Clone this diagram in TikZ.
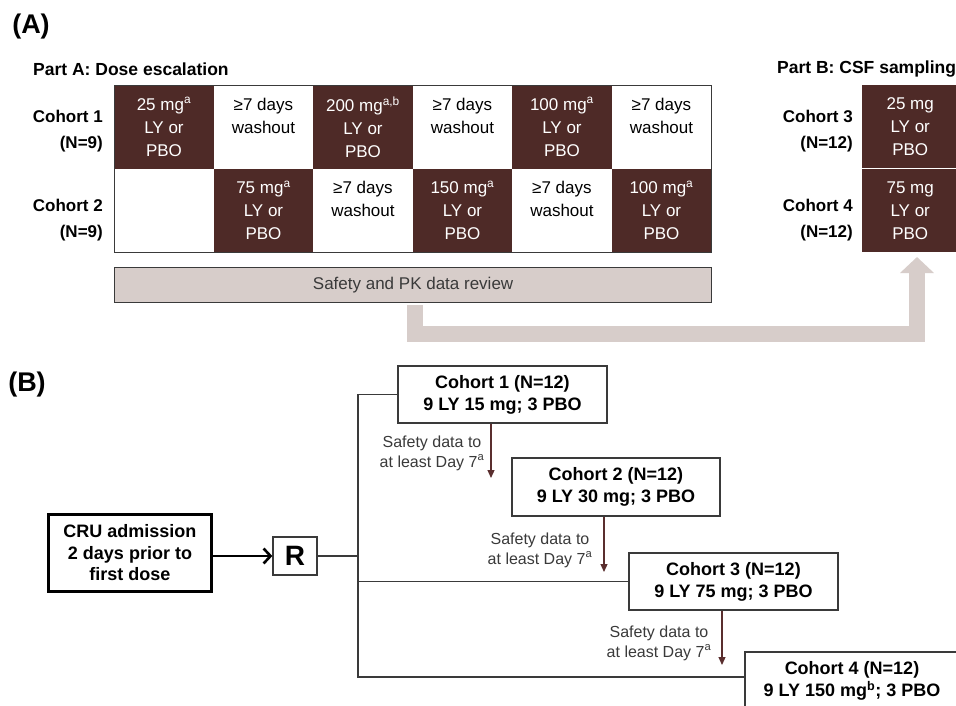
\documentclass[tikz,border=0pt]{standalone}
\usepackage{fontspec}
\setmainfont{Liberation Sans}
\usetikzlibrary{arrows.meta,calc}
\definecolor{brn}{HTML}{4E2A27}
\definecolor{pal}{HTML}{D7CDCA}
\definecolor{ln}{HTML}{3A3A3A}
\definecolor{arw}{HTML}{5A2E2E}
\newcommand{\fsz}[2]{\fontsize{#1}{#2}\selectfont}
\newcommand{\sps}[1]{\textsuperscript{#1}}
\begin{document}
\begin{tikzpicture}[x=1pt,y=-1pt,
  cellB/.style={rectangle, fill=brn, text=white, draw=none, minimum width=99.5pt, minimum height=83.5pt, inner sep=0pt, anchor=north west, align=center, font=\fsz{17}{23}},
  cellW/.style={cellB, fill=white, text=black},
  cellP/.style={cellB, minimum width=96pt},
  cohlab/.style={anchor=east, align=right, inner sep=0pt, font=\bfseries\fsz{17}{26}},
  title/.style={anchor=west, inner sep=0pt, font=\bfseries\fsz{17.5}{20}},
  big/.style={inner sep=0pt, font=\bfseries\fsz{27}{30}},
  cbox/.style={rectangle, draw=ln, line width=1.3pt, fill=white, inner sep=0pt, align=center, font=\bfseries\fsz{18}{22}},
  conn/.style={draw=ln, line width=1.2pt},
  darr/.style={draw=arw, line width=1.2pt, -{Triangle[width=7pt,length=8pt]}},
  safelab/.style={inner sep=0pt, align=center, font=\fsz{16}{20}, text=ln},
  garr/.style={draw=pal, line width=16pt, line join=miter, -{Triangle[width=33pt,length=16pt]}}
]
\useasboundingbox (0,0) rectangle (956,706);
\clip (0,0) rectangle (956,706);
\fill[white] (0,0) rectangle (956,706);

% ---------- (A) ----------
\node[big] (labA) at (31,27) {(A)};
\node[title] (tA) at (33,69) {Part A: Dose escalation};
\node[title] (tB) at (777,69) {Part B: CSF sampling};

% table row 1
\node[cellB] (a11) at (114,85)   {25 mg\sps{a}\\LY or\\PBO};
\node[cellW] (a12) at (213.5,85) {≥7 days\\washout\\\phantom{PBO}};
\node[cellB] (a13) at (313,85)   {200 mg\sps{a,b}\\LY or\\PBO};
\node[cellW] (a14) at (412.5,85) {≥7 days\\washout\\\phantom{PBO}};
\node[cellB] (a15) at (512,85)   {100 mg\sps{a}\\LY or\\PBO};
\node[cellW] (a16) at (611.5,85) {≥7 days\\washout\\\phantom{PBO}};
% table row 2
\node[cellW] (a21) at (114,168.5)   {};
\node[cellB] (a22) at (213.5,168.5) {75 mg\sps{a}\\LY or\\PBO};
\node[cellW] (a23) at (313,168.5)   {≥7 days\\washout\\\phantom{PBO}};
\node[cellB] (a24) at (412.5,168.5) {150 mg\sps{a}\\LY or\\PBO};
\node[cellW] (a25) at (512,168.5)   {≥7 days\\washout\\\phantom{PBO}};
\node[cellB] (a26) at (611.5,168.5) {100 mg\sps{a}\\LY or\\PBO};
\draw[ln, line width=0.9pt] (a11.north west) rectangle (a26.south east);

\node[cohlab] (co1) at (103,131) {Cohort 1\\(N=9)};
\node[cohlab] (co2) at (103,220) {Cohort 2\\(N=9)};

% Part B cells
\node[cellP] (b1) at (862,85)    {25 mg\\LY or\\PBO};
\node[cellP] (b2) at (862,168.5) {75 mg\\LY or\\PBO};
\draw[white, line width=1pt] (b2.north west) -- (b2.north east);
\node[cohlab] (co3) at (853,131) {Cohort 3\\(N=12)};
\node[cohlab] (co4) at (853,220) {Cohort 4\\(N=12)};

% safety box
\node[rectangle, draw=ln, line width=1.2pt, fill=pal, minimum width=597pt, minimum height=35pt, inner sep=0pt, anchor=north west, font=\fsz{17}{20}, text=ln] (safe) at (114,267) {Safety and PK data review};

% gray arrow
\coordinate (gb) at (414.5,333.5);
\coordinate (gtip) at (917,257);
\draw[garr] ($(safe.south -| gb)+(0,2)$) -- (gb) -| (gtip);

% ---------- (B) ----------
\node[big] (labB) at (27,385) {(B)};
\node[rectangle, draw=black, line width=3.5pt, minimum width=163pt, minimum height=77pt, inner sep=0pt, align=center, font=\bfseries\fsz{18}{21.5}] (cru) at (130,553) {CRU admission\\2 days prior to\\first dose};
\node[rectangle, draw=ln, line width=1.3pt, minimum width=44pt, minimum height=38pt, inner sep=0pt, font=\bfseries\fsz{28}{30}] (rb) at (295,556) {R};
\draw[line width=2.6pt, -{Straight Barb[length=7pt,width=15pt]}] (cru.east |- rb.west) -- (rb.west);

\node[cbox, minimum width=209pt, minimum height=57pt] (c1) at (502.5,394.5) {Cohort 1 (N=12)\\9 LY 15 mg; 3 PBO};
\node[cbox, minimum width=208pt, minimum height=58pt] (c2) at (616,487) {Cohort 2 (N=12)\\9 LY 30 mg; 3 PBO};
\node[cbox, minimum width=209pt, minimum height=57pt] (c3) at (733.5,581.5) {Cohort 3 (N=12)\\9 LY 75 mg; 3 PBO};
\node[cbox, minimum width=214pt, minimum height=58pt] (c4) at (852,681) {Cohort 4 (N=12)\\9 LY 150 mg\sps{b}; 3 PBO};

\coordinate (trunk) at (358,556);
\coordinate (t4) at (358,677);
\draw[conn] (rb.east) -- (trunk);
\draw[conn] (c1.west) -| (trunk);
\draw[conn] (c3.west) -| (trunk);
\draw[conn] (c4.west |- t4) -- (t4) -- (trunk);

\coordinate (e1) at (491,478);
\coordinate (e2) at (604,572);
\coordinate (e3) at (722,665);
\draw[darr] (c1.south -| e1) -- (e1);
\draw[darr] (c2.south -| e2) -- (e2);
\draw[darr] (c3.south -| e3) -- (e3);
\node[safelab] (s1) at (432,453) {Safety data to\\at least Day 7\sps{a}};
\node[safelab] (s2) at (540,550) {Safety data to\\at least Day 7\sps{a}};
\node[safelab] (s3) at (659,643) {Safety data to\\at least Day 7\sps{a}};
\end{tikzpicture}
\end{document}
